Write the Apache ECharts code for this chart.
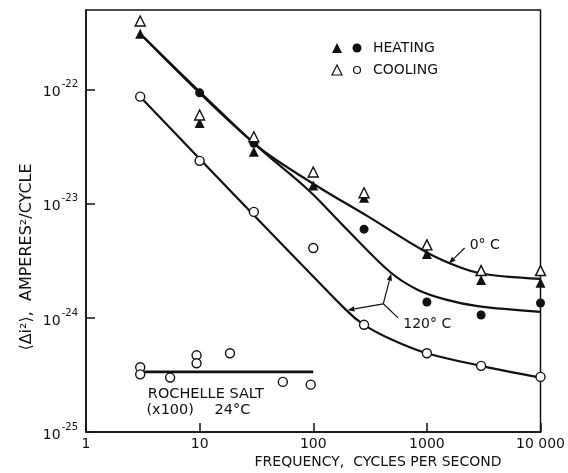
<!DOCTYPE html>
<html>
<head>
<meta charset="utf-8">
<script src="https://cdn.jsdelivr.net/npm/echarts@6/dist/echarts.min.js"></script>
<style>
  html, body { margin: 0; padding: 0; background: #fff; }
  #chart { width: 568px; height: 473px; }
</style>
</head>
<body>
<div id="chart"></div>
<script>
// frequency (c/s) vs <di^2> (A^2/cycle), log-log
const xTickLabels = { 1: "1", 10: "10", 100: "100", 1000: "1000", 10000: "10 000" };

const heatingTriangles = [[3, 3.1e-22], [10, 5.1e-23], [30, 2.86e-23], [100, 1.45e-23], [280, 1.13e-23], [1000, 3.64e-24], [3000, 2.15e-24], [10000, 2.03e-24]];
const heatingCircles = [[10, 9.4e-23], [30, 3.4e-23], [280, 6.0e-24], [1000, 1.38e-24], [3000, 1.06e-24], [10000, 1.35e-24]];
const coolingTriangles = [[3, 4.0e-22], [10, 6.0e-23], [30, 3.87e-23], [100, 1.9e-23], [280, 1.25e-23], [1000, 4.37e-24], [3000, 2.6e-24], [10000, 2.6e-24]];
const coolingCircles = [[3, 8.7e-23], [10, 2.38e-23], [30, 8.5e-24], [100, 4.1e-24], [280, 8.7e-25], [1000, 4.9e-25], [3000, 3.8e-25], [10000, 3.04e-25]];
const rochellePoints = [[3, 3.7e-25], [3, 3.2e-25], [5.5, 3.0e-25], [9.4, 4.7e-25], [9.4, 4.0e-25], [18.5, 4.9e-25], [54, 2.75e-25], [95, 2.6e-25]];

const curve0C = [[3, 3.1e-22], [30, 3.4e-23], [100, 1.5e-23], [300, 7.8e-24], [1000, 3.75e-24], [2000, 2.75e-24], [3000, 2.45e-24], [5000, 2.3e-24], [10000, 2.2e-24]];
const curve120C = [[3, 3.1e-22], [30, 3.4e-23], [90, 1.33e-23], [200, 5.9e-24], [480, 2.5e-24], [835, 1.76e-24], [1500, 1.44e-24], [2800, 1.27e-24], [10000, 1.13e-24]];
const curveLow = [[3, 8.7e-23], [190, 1.2e-24], [280, 8.7e-25], [500, 6.4e-25], [1000, 4.9e-25], [3000, 3.8e-25], [10000, 3.0e-25]];
const rochelleLine = [[3, 3.36e-25], [100, 3.36e-25]];

const INK = "#111";
const FONT = "DejaVu Sans";
// echarts rounds to 20 decimals, so plot in units of 1e-25
const UNIT_EXP = 25;
const toUnits = (pt) => [pt[0], pt[1] * Math.pow(10, UNIT_EXP)];
const scaled = (arr) => arr.map(toUnits);

const chart = echarts.init(document.getElementById("chart"));

const lineSeries = (data, width) => ({
  type: "line",
  data: scaled(data),
  smooth: 0.35,
  symbol: "none",
  lineStyle: { color: INK, width: width || 2.2 },
  z: 2,
  silent: true,
});

const dots = (data, symbol, filled, size) => ({
  type: "scatter",
  data: scaled(data),
  symbol,
  symbolSize: size,
  itemStyle: {
    color: filled ? INK : "#fff",
    borderColor: INK,
    borderWidth: filled ? 0 : 1.4,
    opacity: 1,
  },
  z: 4,
});

chart.setOption({
  animation: false,
  backgroundColor: "#fff",
  grid: {
    left: 86,
    right: 25,
    top: 10,
    bottom: 41,
    show: true,
    borderColor: INK,
    borderWidth: 1.5,
  },
  xAxis: {
    type: "log",
    logBase: 10,
    min: 1,
    max: 10000,
    axisLine: { lineStyle: { color: INK, width: 1.5 } },
    axisTick: { inside: true, length: 9, lineStyle: { color: INK, width: 1.5 } },
    minorTick: { show: false },
    splitLine: { show: false },
    axisLabel: {
      color: INK,
      fontFamily: FONT,
      fontSize: 14,
      margin: 5,
      formatter: (v) => xTickLabels[Math.round(v)] || "",
    },
  },
  yAxis: {
    type: "log",
    logBase: 10,
    min: 1,
    max: 5000,
    axisLine: { lineStyle: { color: INK, width: 1.5 } },
    axisTick: { inside: true, length: 9, lineStyle: { color: INK, width: 1.5 } },
    splitLine: { show: false },
    axisLabel: {
      color: INK,
      fontFamily: FONT,
      margin: 8,
      showMaxLabel: false,
      formatter: (v) => {
        const l = Math.log10(v);
        if (Math.abs(l - Math.round(l)) > 0.01) return "";
        return "{b|10}{s|" + (Math.round(l) - UNIT_EXP) + "}";
      },
      rich: {
        b: { fontSize: 14, fontFamily: FONT, color: INK, verticalAlign: "bottom", padding: [6, 0, 0, 0] },
        s: { fontSize: 10, fontFamily: FONT, color: INK, verticalAlign: "top", padding: [0, 0, 6, 1] },
      },
    },
  },
  series: [
    lineSeries(curve0C),
    lineSeries(curve120C),
    lineSeries(curveLow),
    lineSeries(rochelleLine, 2.8),
    dots(heatingTriangles, "triangle", true, 10),
    dots(heatingCircles, "circle", true, 9),
    dots(coolingTriangles, "triangle", false, 10),
    dots(coolingCircles, "circle", false, 9),
    dots(rochellePoints, "circle", false, 9),
  ],
});

// annotations placed in data space
const px = (pt) => chart.convertToPixel({ gridIndex: 0 }, toUnits(pt));

const arrow = (from, to) => {
  const a = px(from);
  const b = px(to);
  const ang = Math.atan2(b[1] - a[1], b[0] - a[0]);
  const len = 7, half = 2.6;
  const bx = b[0] - len * Math.cos(ang), by = b[1] - len * Math.sin(ang);
  return [
    { type: "line", shape: { x1: a[0], y1: a[1], x2: bx, y2: by }, style: { stroke: INK, lineWidth: 1.2 }, z: 10 },
    {
      type: "polygon",
      shape: {
        points: [
          b,
          [bx + half * Math.sin(ang), by - half * Math.cos(ang)],
          [bx - half * Math.sin(ang), by + half * Math.cos(ang)],
        ],
      },
      style: { fill: INK },
      z: 10,
    },
  ];
};

const textEl = (x, y, text, size, extra) => ({
  type: "text",
  x,
  y,
  style: Object.assign({ text, fill: INK, font: size + "px " + FONT, textAlign: "left", textVerticalAlign: "middle" }, extra || {}),
  z: 10,
});

const label = (pt, text, size) => {
  const p = px(pt);
  return textEl(p[0], p[1], text, size);
};

const fork = px([413, 1.33e-24]);
const tail = px([558, 1.0e-24]);

const graphics = [
  ...arrow([2150, 4.1e-24], [1560, 3.0e-24]),
  label([2380, 4.3e-24], "0° C", 14),
  ...arrow([413, 1.33e-24], [485, 2.45e-24]),
  ...arrow([413, 1.33e-24], [200, 1.17e-24]),
  { type: "line", shape: { x1: fork[0], y1: fork[1], x2: tail[0], y2: tail[1] }, style: { stroke: INK, lineWidth: 1.2 }, z: 10 },
  label([620, 8.7e-25], "120° C", 14),
  label([3.5, 2.15e-25], "ROCHELLE SALT", 14.5),
  label([3.4, 1.55e-25], "(x100)", 14.5),
  label([13.5, 1.55e-25], "24°C", 14.5),
  // legend
  { type: "polygon", shape: { points: [[337, 43], [342, 53], [332, 53]] }, style: { fill: INK } },
  { type: "circle", shape: { cx: 357, cy: 48, r: 4.5 }, style: { fill: INK } },
  textEl(373, 48, "HEATING", 14),
  { type: "polygon", shape: { points: [[337, 65], [342, 75], [332, 75]] }, style: { fill: "#fff", stroke: INK, lineWidth: 1.2 } },
  { type: "circle", shape: { cx: 357, cy: 70, r: 3.5 }, style: { fill: "#fff", stroke: INK, lineWidth: 1.2 } },
  textEl(373, 70, "COOLING", 14),
  // axis titles
  textEl(378, 462, "FREQUENCY,  CYCLES PER SECOND", 14, { textAlign: "center" }),
  {
    type: "text",
    x: 27,
    y: 257,
    rotation: Math.PI / 2,
    style: { text: "⟨Δi²⟩,  AMPERES²/CYCLE", fill: INK, font: "16px " + FONT, textAlign: "center", textVerticalAlign: "middle" },
  },
];

chart.setOption({ graphic: graphics });
</script>
</body>
</html>
